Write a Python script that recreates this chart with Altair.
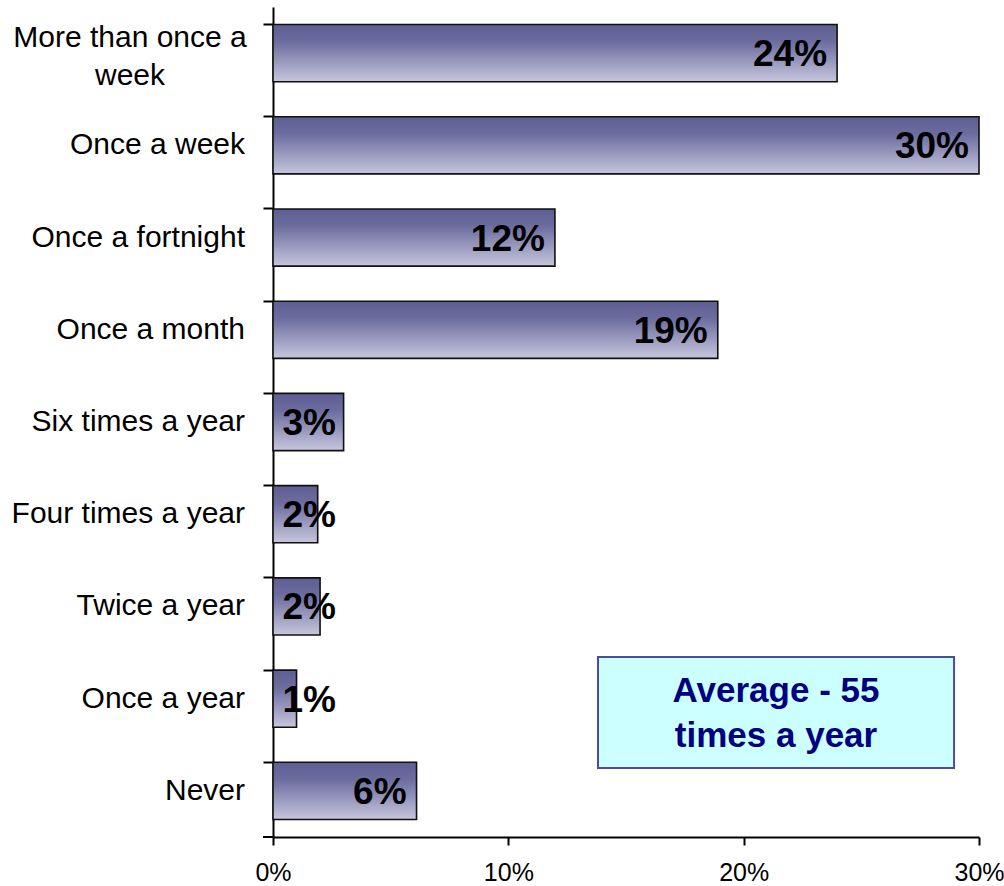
import altair as alt
import pandas as pd

categories = ["More than once a week", "Once a week", "Once a fortnight", "Once a month",
              "Six times a year", "Four times a year", "Twice a year", "Once a year", "Never"]
display = ["More than once a\nweek", "Once a week", "Once a fortnight", "Once a month",
           "Six times a year", "Four times a year", "Twice a year", "Once a year", "Never"]
values = [0.2397, 0.300, 0.1198, 0.189, 0.030, 0.019, 0.020, 0.010, 0.061]
labels = ["24%", "30%", "12%", "19%", "3%", "2%", "2%", "1%", "6%"]
x_ticks = [0, 0.1, 0.2, 0.3]
note_lines = "Average - 55\ntimes a year"
note_x = [0.1381, 0.2894]

df = pd.DataFrame({"cat": categories, "disp": display, "value": values, "label": labels})
df["multi"] = df["disp"].str.contains("\n")

W, H = 706, 830
px = 0.30 / W  # data units per pixel

FONT = "Liberation Sans"

xscale = alt.Scale(domain=[0, 0.30], nice=False, zero=True)
yscale = alt.Scale(domain=categories, paddingInner=0.38, paddingOuter=0.19)

gradient = alt.Gradient(
    gradient="linear", x1=0, x2=0, y1=0, y2=1,
    stops=[alt.GradientStop(offset=0, color="#5e5e93"),
           alt.GradientStop(offset=0.3, color="#6c6c9f"),
           alt.GradientStop(offset=1, color="#c6c6dd")]
)

base = alt.Chart(df)

bars = base.mark_bar(fill=gradient, stroke="#111111", strokeWidth=1.6).encode(
    x=alt.X("value:Q", scale=xscale,
            axis=alt.Axis(values=x_ticks, format=".0%", grid=False, title=None,
                          labelFont=FONT, labelFontSize=25, labelColor="black",
                          labelFlush=False, labelPadding=15, tickSize=8, tickWidth=2,
                          tickColor="black", domainColor="black", domainWidth=2)),
    y=alt.Y("cat:N", scale=yscale, sort=categories,
            axis=alt.Axis(labels=False, title=None, bandPosition=0, tickSize=10,
                          tickWidth=2, tickColor="black", domainColor="black",
                          domainWidth=2, grid=False)),
)

bar_text = base.transform_calculate(
    lpos=f"max(datum.value - {10 * px}, {63 * px})"
).mark_text(align="right", baseline="middle", font=FONT, fontSize=37,
            fontWeight="bold", color="black", dy=2).encode(
    x=alt.X("lpos:Q", scale=xscale),
    y=alt.Y("cat:N", scale=yscale, sort=categories),
    text="label:N",
)

cat_single = base.transform_filter("!datum.multi").mark_text(
    align="right", baseline="middle", font=FONT, fontSize=30, color="black"
).encode(
    x=alt.value(-28),
    y=alt.Y("cat:N", scale=yscale, sort=categories),
    text="disp:N",
)

cat_multi = base.transform_filter("datum.multi").mark_text(
    align="center", baseline="middle", font=FONT, fontSize=30, color="black",
    lineBreak="\n", lineHeight=38, dy=-15
).encode(
    x=alt.value(-143),
    y=alt.Y("cat:N", scale=yscale, sort=categories),
    text="disp:N",
)

bottom_tick = alt.Chart(pd.DataFrame({"a": [0]})).mark_rule(
    color="black", strokeWidth=2
).encode(x=alt.value(-10), x2=alt.value(0), y=alt.value(H))

note_df = pd.DataFrame({"x1": [note_x[0]], "x2": [note_x[1]], "t": [note_lines]})
note_box = alt.Chart(note_df).mark_rect(
    fill="#ccffff", stroke="#4b4ba0", strokeWidth=2
).encode(
    x=alt.X("x1:Q", scale=xscale), x2="x2:Q",
    y=alt.value(650), y2=alt.value(761),
)
note_text = alt.Chart(note_df).transform_calculate(
    xm="(datum.x1 + datum.x2) / 2"
).mark_text(
    align="center", baseline="middle", font=FONT, fontSize=35, fontWeight="bold",
    color="#000080", lineBreak="\n", lineHeight=45
).encode(
    x=alt.X("xm:Q", scale=xscale),
    y=alt.value(684),
    text="t:N",
)

chart = alt.layer(bars, bar_text, cat_single, cat_multi, bottom_tick, note_box, note_text).properties(
    width=W, height=H,
    autosize=alt.AutoSizeParams(type="none"),
    padding={"left": 273, "top": 7, "right": 25, "bottom": 49},
    background="white",
).configure_view(stroke=None)

chart.save("out.html", embed_options={"renderer": "svg", "actions": False})
